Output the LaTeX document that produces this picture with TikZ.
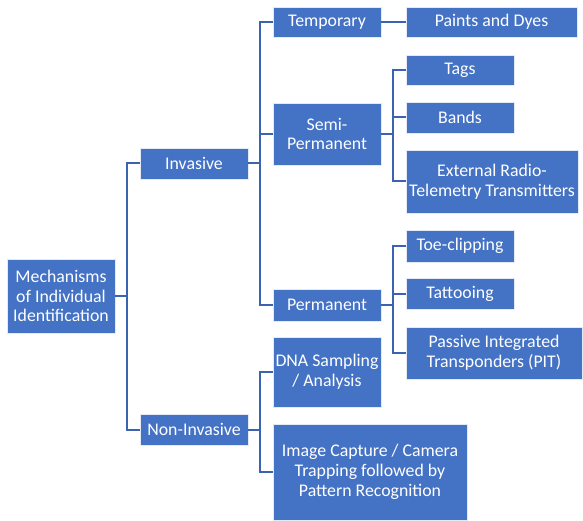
\documentclass[tikz,border=0pt]{standalone}
\usepackage{fontspec}
\setmainfont{Carlito}
\usepackage{tikz}
\definecolor{boxblue}{HTML}{4472C4}
\definecolor{linkblue}{HTML}{3A63B0}
\tikzset{
    box/.style={rectangle, fill=boxblue, draw=white!85!boxblue, line width=0.8pt, text=white, align=center, inner sep=2pt, font=\fontsize{17.8}{19.8}\selectfont}, % 定义方框的样式
    link/.style={draw=linkblue, line width=2pt} % 定义连线的样式
}
\begin{document}
\begin{tikzpicture}[x=1pt, y=-1pt]
            \useasboundingbox (0,0) rectangle (583,521);

            \node[box, minimum width=108pt, minimum height=74pt] (root) at (61,296) {Mechanisms\\of Individual\\Identification};

            \node[box, minimum width=108pt, minimum height=31pt] (inv) at (194,163.5) {Invasive};
            \node[box, minimum width=108pt, minimum height=31pt] (noninv) at (194,429.5) {Non-Invasive};

            \node[box, minimum width=108pt, minimum height=30pt] (temp) at (327,22) {Temporary};
            \node[box, minimum width=108pt, minimum height=62pt] (semi) at (327,134) {Semi-\\Permanent};
            \node[box, minimum width=108pt, minimum height=32pt] (perm) at (327,305) {Permanent};
            \node[box, minimum width=108pt, minimum height=70pt] (dna) at (327,372) {DNA Sampling\\/ Analysis};
            \node[box, minimum width=194pt, minimum height=96pt] (img) at (370,472) {Image Capture / Camera\\Trapping followed by\\Pattern Recognition};

            \node[box, minimum width=171pt, minimum height=30pt] (paints) at (491.5,22) {Paints and Dyes};
            \node[box, minimum width=108pt, minimum height=30pt] (tags) at (460,70) {Tags};
            \node[box, minimum width=108pt, minimum height=31pt] (bands) at (460,117.5) {Bands};
            \node[box, minimum width=172pt, minimum height=63pt] (ext) at (492,181.5) {External Radio-\\Telemetry Transmitters};
            \node[box, minimum width=108pt, minimum height=32pt] (toe) at (460,246) {Toe-clipping};
            \node[box, minimum width=108pt, minimum height=31pt] (tat) at (460,293.5) {Tattooing};
            \node[box, minimum width=176pt, minimum height=52pt] (pit) at (494,353) {Passive Integrated\\Transponders (PIT)};

            \foreach \c in {inv,noninv} {\draw[link] (root.east) -- ++(12,0) |- (\c.west);}
            \foreach \c in {temp,semi,perm} {\draw[link] (inv.east) -- ++(12,0) |- (\c.west);}
            \foreach \c in {dna,img} {\draw[link] (noninv.east) -- ++(12,0) |- (\c.west);}
            \foreach \c in {tags,bands,ext} {\draw[link] (semi.east) -- ++(12,0) |- (\c.west);}
            \foreach \c in {toe,tat,pit} {\draw[link] (perm.east) -- ++(12,0) |- (\c.west);}
            \draw[link] (temp.east) -- (paints.west);
        \end{tikzpicture}
\end{document}
